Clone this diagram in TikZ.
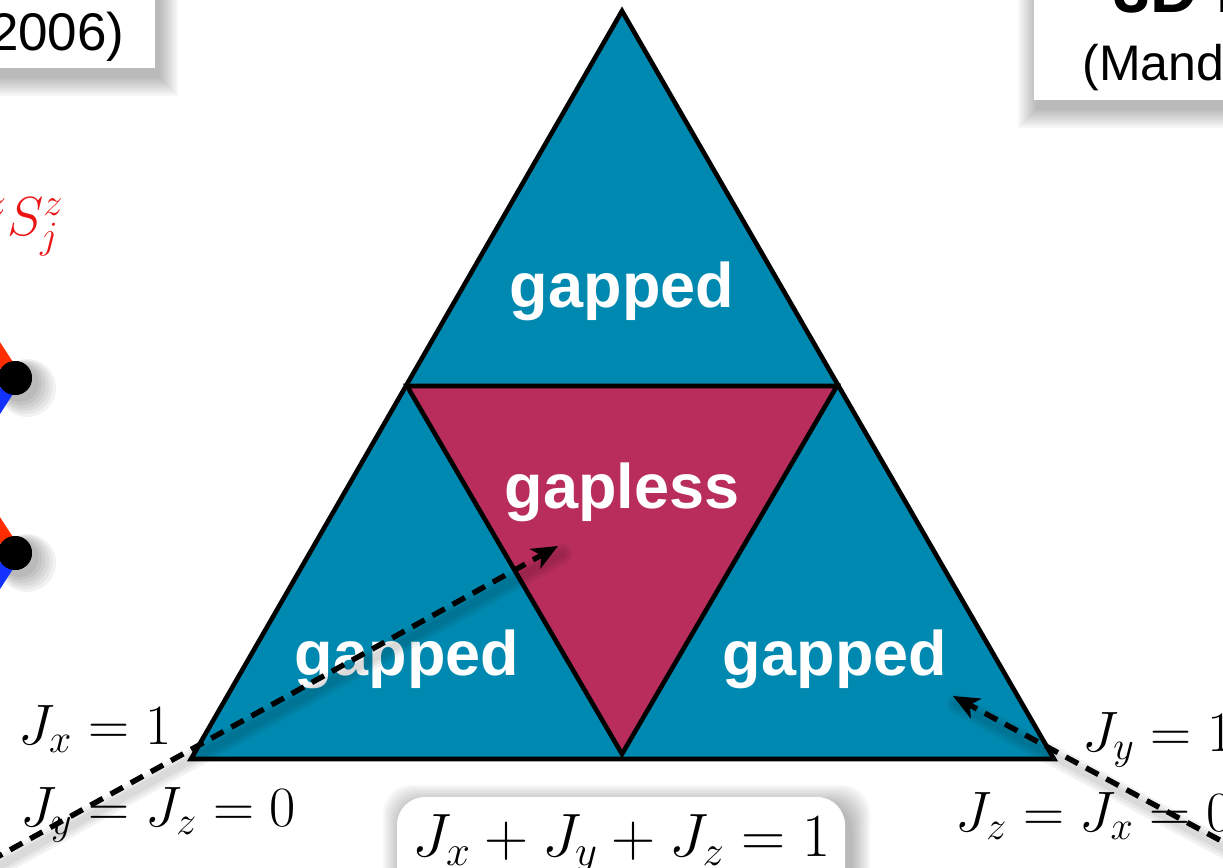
\RequirePackage{fix-cm}
\documentclass[tikz,border=0pt]{standalone}
\usepackage{fontspec}
\newfontfamily\hv{Liberation Sans}
\usetikzlibrary{arrows.meta}
\definecolor{kteal}{RGB}{0,137,176}
\definecolor{kmag}{RGB}{184,45,92}
\definecolor{kred}{RGB}{255,45,0}
\definecolor{kblue}{RGB}{20,50,255}
\definecolor{kredtxt}{RGB}{235,20,20}
\begin{document}
\begin{tikzpicture}[x=0.5pt,y=-0.5pt,
  region/.style={draw=black,line width=2.3pt,line join=miter},
  lbl/.style={font=\hv\bfseries\fontsize{31.5}{36}\selectfont,text=white,inner sep=0pt},
  eqn/.style={font=\fontsize{28.5}{32}\selectfont,inner sep=0pt,anchor=base west},
  boxtxt/.style={font=\hv\fontsize{25}{30}\selectfont,inner sep=0pt},
  darr/.style={line width=2.7pt,dash pattern=on 7pt off 4.5pt,-{Stealth[length=13pt,width=11pt,inset=3.5pt]}},
  arrshadow/.style={black,opacity=0.05,line cap=round},
  dot/.style={circle,fill=black,minimum size=17pt,inner sep=0pt},
  bond/.style={line width=7pt}]
\useasboundingbox (0,0) rectangle (1223,868);
\clip (0,0) rectangle (1223,868);

% ---- box shadows
\foreach \i in {0,...,9}{
  \fill[black,opacity=0.03] (-20,-20) rectangle (160+2*\i,78+2*\i);
  \fill[black,opacity=0.03] (1036-2*\i,-20) rectangle (1250,110+2*\i);
  \fill[black,opacity=0.03,rounded corners=14pt] (401-2*\i,803-2*\i) rectangle (852+2*\i,900);
}
% ---- top-left box
\fill[white] (-20,-20) rectangle (155,68);
\node (yr) [boxtxt,anchor=base east,font=\hv\fontsize{26.5}{30}\selectfont] at (125,50) {2006)};
% ---- top-right box
\fill[white] (1034,-20) rectangle (1250,100);
\node (ttl) [inner sep=0pt,anchor=base west,font=\hv\bfseries\fontsize{33}{36}\selectfont] at (1113,12) {3D Kitaev};
\node (ref) [boxtxt,anchor=base west] at (1082,80) {(Mandal};

% ---- red coupling label
\node (szz) [inner sep=0pt,anchor=base east,text=kredtxt,font=\fontsize{27.5}{30}\selectfont] at (64,235) {$J_z S^z_i S^z_j$};

% ---- lattice fragment
\foreach \cy/\nm in {378/d1,553/d2}{
  \foreach \k in {1,...,6}{
    \fill[black,opacity=0.05] (18+1.5*\k,\cy+4+\k) circle ({17+2*\k});
  }
  \coordinate (\nm r) at (-45,\cy-92);
  \coordinate (\nm b) at (-40,\cy+85);
  \node (\nm) [dot] at (15,\cy) {};
  \draw[bond,kred] (\nm r) -- (\nm.center);
  \draw[bond,kblue] (\nm.center) -- (\nm b);
  \node [dot] at (\nm) {};
}

% ---- triangle
\coordinate (A) at (622,11);
\coordinate (B) at (191,759);
\coordinate (C) at (1054,759);
\coordinate (L) at (407,386);
\coordinate (R) at (837,386);
\coordinate (M) at (622,754);
\fill[kteal] (A) -- (B) -- (C) -- cycle;
\filldraw[region,fill=kmag] (L) -- (R) -- (M) -- cycle;
\draw[region] (A) -- (B) -- (C) -- cycle;

\node (g1) [lbl] at (622,291) {gapped};
\node (g0) [lbl] at (622,492) {gapless};
\node (g2) [lbl] at (407,659) {gapped};
\node (g3) [lbl] at (835,659) {gapped};

% ---- corner labels
\node (lx) [eqn] at (18,744) {$J_x=1$};
\node (lyz) [eqn] at (20,826) {$J_y=J_z=0$};
\node (ry) [eqn] at (1082,751) {$J_y=1$};
\node (rzx) [eqn] at (955,831) {$J_z=J_x=0$};

% ---- sum box
\fill[white,rounded corners=14pt] (397,797) rectangle (845,900);
\node (sum) [inner sep=0pt,anchor=base,font=\fontsize{30.6}{34}\selectfont] at (622,856) {$J_x+J_y+J_z=1$};

% ---- dashed arrows
\coordinate (s1) at (-10,861);
\coordinate (t1) at (558,546);
\coordinate (s2) at (1240,851);
\coordinate (t2) at (953,696);
\foreach \o in {4,7,10}{
  \draw[arrshadow,line width=\o pt] ([shift={(4,8)}]s1) -- ([shift={(4,8)}]t1);
  \draw[arrshadow,line width=\o pt] ([shift={(4,8)}]s2) -- ([shift={(4,8)}]t2);
}
\draw[darr] (s1) -- (t1);
\draw[darr] (s2) -- (t2);
\end{tikzpicture}
\end{document}
